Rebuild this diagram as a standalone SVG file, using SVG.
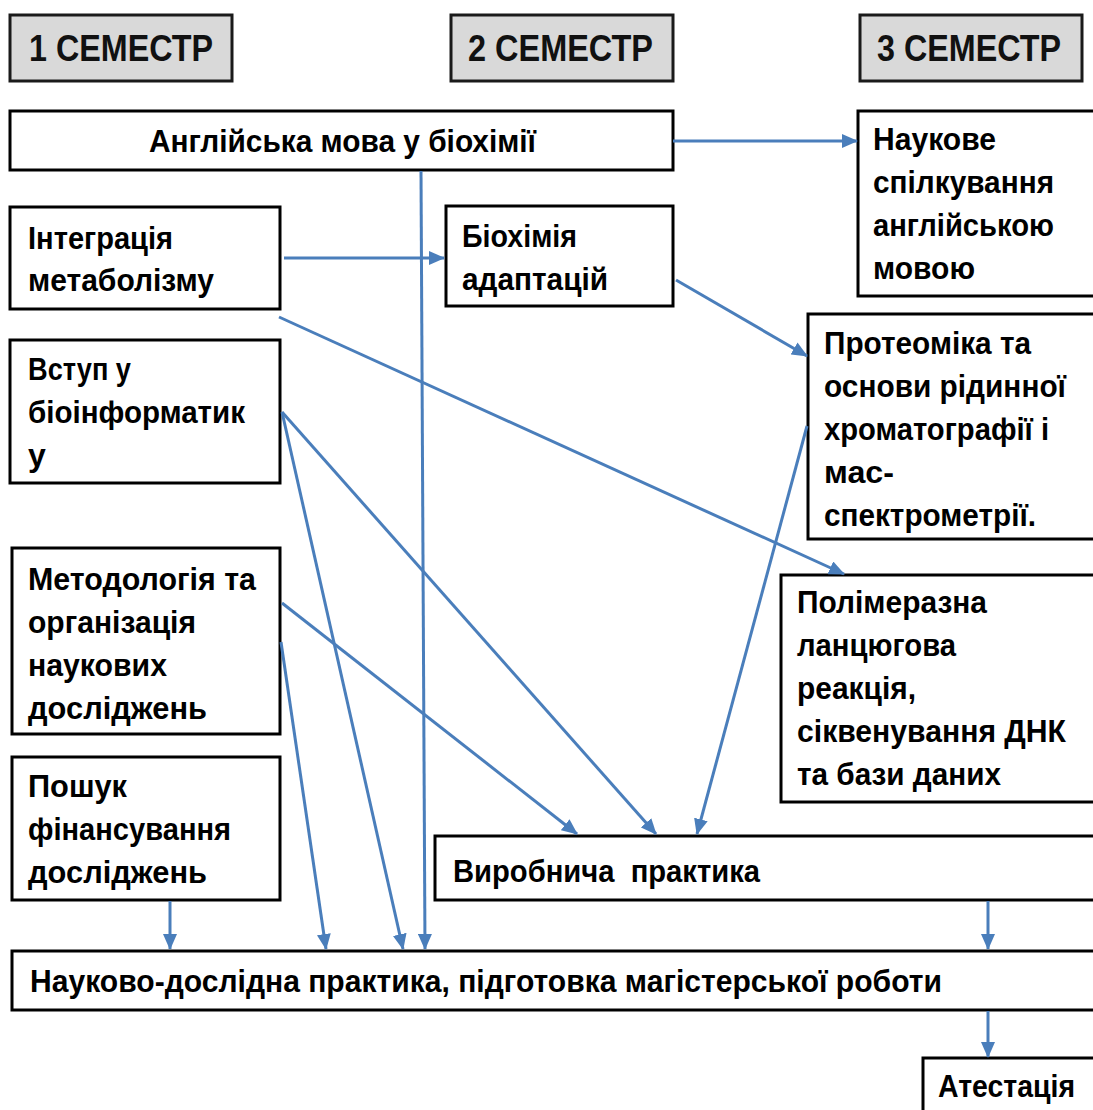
<svg xmlns="http://www.w3.org/2000/svg" width="1093" height="1110" viewBox="0 0 1093 1110">
<defs>
<style>
.box{fill:#ffffff;stroke:#000000;stroke-width:3}
.hdr{fill:#d9d9d9;stroke:#1a1a1a;stroke-width:3}
.t{font-family:"Liberation Sans",Arial,sans-serif;font-weight:bold;font-size:32px;fill:#000000}
.h{font-family:"Liberation Sans",Arial,sans-serif;font-weight:bold;font-size:36px;fill:#111111}
.c{stroke:#4a7ebb;stroke-width:3;fill:none;marker-end:url(#ah)}
</style>
<marker id="ah" markerUnits="userSpaceOnUse" markerWidth="16" markerHeight="14" refX="15" refY="7" orient="auto">
<path d="M0,0 L16,7 L0,14 Z" fill="#4a7ebb"/>
</marker>
</defs>
<rect width="1093" height="1110" fill="#ffffff"/>

<g id="sem1"><rect class="hdr" x="10" y="15" width="222" height="66"/><text class="h" x="29" y="61" textLength="184" lengthAdjust="spacingAndGlyphs">1 СЕМЕСТР</text></g>
<g id="sem2"><rect class="hdr" x="451" y="15" width="222" height="66"/><text class="h" x="468" y="61" textLength="185" lengthAdjust="spacingAndGlyphs">2 СЕМЕСТР</text></g>
<g id="sem3"><rect class="hdr" x="860" y="15" width="222" height="66"/><text class="h" x="877" y="61" textLength="184" lengthAdjust="spacingAndGlyphs">3 СЕМЕСТР</text></g>

<g id="english"><rect class="box" x="10" y="111" width="663" height="59"/><text class="t" x="149" y="152" textLength="387" lengthAdjust="spacingAndGlyphs">Англійська мова у біохімії</text></g>

<g id="sci-comm"><rect class="box" x="858" y="111" width="245" height="185"/>
<text class="t" x="873" y="150" textLength="123" lengthAdjust="spacingAndGlyphs">Наукове</text>
<text class="t" x="873" y="193" textLength="181" lengthAdjust="spacingAndGlyphs">спілкування</text>
<text class="t" x="873" y="236" textLength="181" lengthAdjust="spacingAndGlyphs">англійською</text>
<text class="t" x="873" y="279" textLength="102" lengthAdjust="spacingAndGlyphs">мовою</text></g>

<g id="integration"><rect class="box" x="10" y="207" width="270" height="102"/>
<text class="t" x="28" y="249" textLength="145" lengthAdjust="spacingAndGlyphs">Інтеграція</text>
<text class="t" x="28" y="291" textLength="186" lengthAdjust="spacingAndGlyphs">метаболізму</text></g>

<g id="adaptation"><rect class="box" x="446" y="206" width="227" height="100"/>
<text class="t" x="462" y="247" textLength="115" lengthAdjust="spacingAndGlyphs">Біохімія</text>
<text class="t" x="462" y="290" textLength="146" lengthAdjust="spacingAndGlyphs">адаптацій</text></g>

<g id="proteomics"><rect class="box" x="808" y="314" width="295" height="225"/>
<text class="t" x="824" y="354" textLength="207" lengthAdjust="spacingAndGlyphs">Протеоміка та</text>
<text class="t" x="824" y="397" textLength="242" lengthAdjust="spacingAndGlyphs">основи рідинної</text>
<text class="t" x="824" y="440" textLength="225" lengthAdjust="spacingAndGlyphs">хроматографії і</text>
<text class="t" x="824" y="483" textLength="70" lengthAdjust="spacingAndGlyphs">мас-</text>
<text class="t" x="824" y="526" textLength="212" lengthAdjust="spacingAndGlyphs">спектрометрії.</text></g>

<g id="bioinf"><rect class="box" x="10" y="340" width="270" height="143"/>
<text class="t" x="28" y="380" textLength="103" lengthAdjust="spacingAndGlyphs">Вступ у</text>
<text class="t" x="28" y="423" textLength="217" lengthAdjust="spacingAndGlyphs">біоінформатик</text>
<text class="t" x="28" y="466">у</text></g>

<g id="methodology"><rect class="box" x="12" y="548" width="268" height="186"/>
<text class="t" x="28" y="590" textLength="228" lengthAdjust="spacingAndGlyphs">Методологія та</text>
<text class="t" x="28" y="633" textLength="168" lengthAdjust="spacingAndGlyphs">організація</text>
<text class="t" x="28" y="676" textLength="139" lengthAdjust="spacingAndGlyphs">наукових</text>
<text class="t" x="28" y="719" textLength="179" lengthAdjust="spacingAndGlyphs">досліджень</text></g>

<g id="pcr"><rect class="box" x="781" y="575" width="322" height="227"/>
<text class="t" x="797" y="613" textLength="190" lengthAdjust="spacingAndGlyphs">Полімеразна</text>
<text class="t" x="797" y="656" textLength="159" lengthAdjust="spacingAndGlyphs">ланцюгова</text>
<text class="t" x="797" y="699" textLength="119" lengthAdjust="spacingAndGlyphs">реакція,</text>
<text class="t" x="797" y="742" textLength="269" lengthAdjust="spacingAndGlyphs">сіквенування ДНК</text>
<text class="t" x="797" y="785" textLength="204" lengthAdjust="spacingAndGlyphs">та бази даних</text></g>

<g id="funding"><rect class="box" x="12" y="757" width="268" height="143"/>
<text class="t" x="28" y="797" textLength="99" lengthAdjust="spacingAndGlyphs">Пошук</text>
<text class="t" x="28" y="840" textLength="203" lengthAdjust="spacingAndGlyphs">фінансування</text>
<text class="t" x="28" y="883" textLength="179" lengthAdjust="spacingAndGlyphs">досліджень</text></g>

<g id="production"><rect class="box" x="435" y="836" width="668" height="64"/>
<text class="t" x="453" y="882" textLength="307" lengthAdjust="spacingAndGlyphs" xml:space="preserve">Виробнича  практика</text></g>

<g id="research"><rect class="box" x="12" y="951" width="1091" height="59"/>
<text class="t" x="30" y="992" textLength="912" lengthAdjust="spacingAndGlyphs">Науково-дослідна практика, підготовка магістерської роботи</text></g>

<g id="attestation"><rect class="box" x="923" y="1058" width="180" height="60"/>
<text class="t" x="938" y="1097" textLength="137" lengthAdjust="spacingAndGlyphs">Атестація</text></g>

<g id="connectors">
<line class="c" x1="673" y1="141" x2="857" y2="141"/>
<line class="c" x1="421" y1="171" x2="425" y2="949"/>
<line class="c" x1="284" y1="258" x2="444" y2="258"/>
<line class="c" x1="279" y1="317" x2="844" y2="574"/>
<line class="c" x1="676" y1="280" x2="807" y2="356"/>
<line class="c" x1="282" y1="412" x2="656" y2="834"/>
<line class="c" x1="282" y1="412" x2="403" y2="949"/>
<line class="c" x1="282" y1="603" x2="577" y2="834"/>
<line class="c" x1="281" y1="642" x2="326" y2="949"/>
<line class="c" x1="807" y1="426" x2="697" y2="834"/>
<line class="c" x1="170" y1="901" x2="170" y2="949"/>
<line class="c" x1="988" y1="901" x2="988" y2="949"/>
<line class="c" x1="988" y1="1011" x2="988" y2="1057"/>
</g>
</svg>
